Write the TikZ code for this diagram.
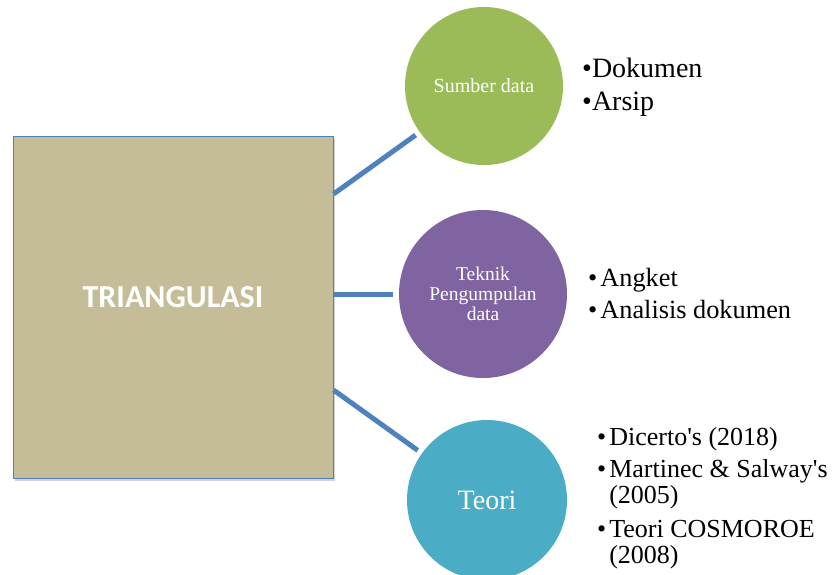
\documentclass[tikz,border=0pt]{standalone}
\usepackage{fontspec}
\setmainfont{Liberation Serif}
\newfontfamily\calfont{Carlito}
\usetikzlibrary{shadows}
\definecolor{boxtan}{HTML}{C4BD97}
\definecolor{lineblue}{HTML}{4F81BD}
\definecolor{srcgreen}{HTML}{9BBB59}
\definecolor{tekpurple}{HTML}{8064A2}
\definecolor{teoteal}{HTML}{4BACC6}
\begin{document}
\begin{tikzpicture}[x=1pt,y=-1pt,
		bigbox/.style={draw=lineblue,fill=boxtan,line width=1pt,minimum width=320pt,minimum height=342pt,
			drop shadow={opacity=0.35,shadow xshift=2pt,shadow yshift=-3pt}},
		bigvertex/.style={circle,draw=none,text=white,align=center,inner sep=0pt},
		link/.style={draw=lineblue,line width=5pt},
		itemlist/.style={anchor=base west,inner sep=0pt}
		]
	\useasboundingbox (0,0) rectangle (837,574);

	\node[bigbox](S0) at (173,307){};
	\node[text=white,font=\calfont\bfseries\fontsize{32}{34}\selectfont](T0) at (173,297){TRIANGULASI};

	\node[bigvertex, fill=srcgreen, minimum size=158pt, font=\fontsize{20}{22}\selectfont](S1) at (484,86){Sumber data};
	\node[bigvertex, fill=tekpurple, minimum size=168pt, font=\fontsize{19.5}{20}\selectfont](S2) at (483,294){Teknik\\Pengumpulan\\data};
	\node[bigvertex, fill=teoteal, minimum size=160pt, font=\fontsize{28}{30}\selectfont](S3) at (487,500){Teori};

	\draw[link, shorten >=5pt] ([yshift=113pt]S0.east) -- (S1);
	\draw[link, shorten >=6pt] ([yshift=13pt]S0.east) -- (S2);
	\draw[link, shorten >=5pt] ([yshift=-83pt]S0.east) -- (S3);

	\node[itemlist, font=\fontsize{28}{33}\selectfont](L1) at (582,77){%
		\begin{tabular}[t]{@{}l@{}l@{}}
			\textbullet & Dokumen\\
			\textbullet & Arsip
		\end{tabular}};
	\node[itemlist, font=\fontsize{26.3}{32}\selectfont](L2) at (588,286){%
		\begin{tabular}[t]{@{}l@{\hspace{3pt}}l@{}}
			\textbullet & Angket\\
			\textbullet & Analisis dokumen
		\end{tabular}};
	\node[itemlist, font=\fontsize{26}{26}\selectfont](L3) at (597,445){%
		\begin{tabular}[t]{@{}l@{\hspace{3pt}}l@{}}
			\textbullet & Dicerto\textquotesingle s (2018)\\[6pt]
			\textbullet & Martinec \& Salway\textquotesingle s\\
			& (2005)\\[8pt]
			\textbullet & Teori COSMOROE\\
			& (2008)
		\end{tabular}};
\end{tikzpicture}
\end{document}
